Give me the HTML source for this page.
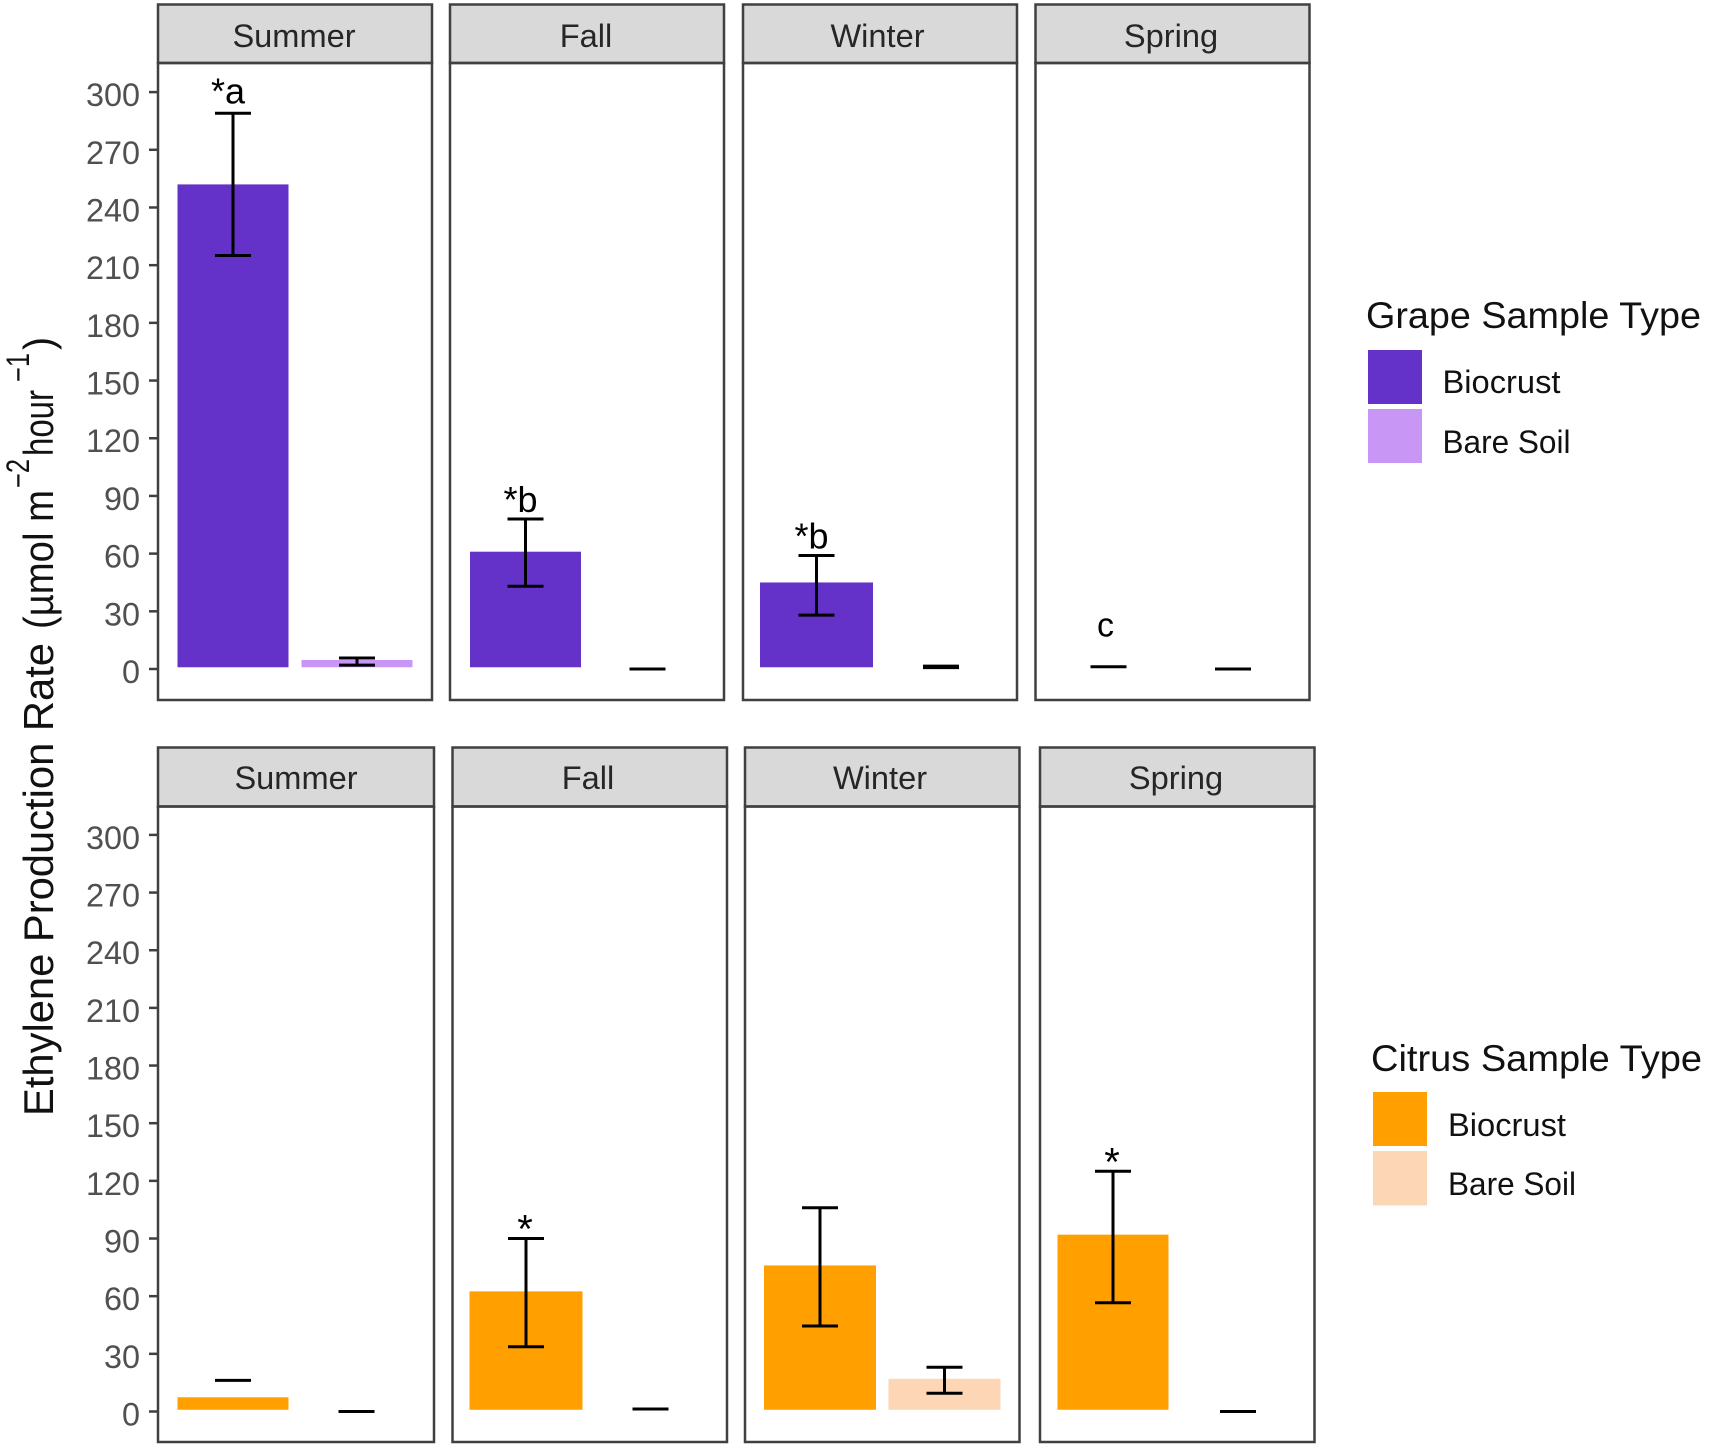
<!DOCTYPE html>
<html lang="en">
<head>
<meta charset="utf-8">
<title>Ethylene Production Rate by Season</title>
<style>
html,body{margin:0;padding:0;background:#fff;}
svg{display:block;font-family:"Liberation Sans",Arial,sans-serif;}
</style>
</head>
<body>
<svg id="chart" xmlns="http://www.w3.org/2000/svg" width="1709" height="1447" viewBox="0 0 1709 1447">
  <rect x="0" y="0" width="1709" height="1447" fill="#ffffff"/>

  <g id="y-title" fill="#111" font-size="41.6">
    <text transform="translate(53,1116) rotate(-90)" textLength="473" lengthAdjust="spacingAndGlyphs">Ethylene Production Rate</text>
    <text transform="translate(53,629) rotate(-90)" textLength="139" lengthAdjust="spacingAndGlyphs">(µmol m</text>
    <text transform="translate(29,488) rotate(-90)" font-size="32" textLength="29" lengthAdjust="spacingAndGlyphs">−2</text>
    <text transform="translate(53,456) rotate(-90)" textLength="66" lengthAdjust="spacingAndGlyphs">hour</text>
    <text transform="translate(29,382) rotate(-90)" font-size="32" textLength="29" lengthAdjust="spacingAndGlyphs">−1</text>
    <text transform="translate(53,350) rotate(-90)" textLength="13" lengthAdjust="spacingAndGlyphs">)</text>
  </g>

  <g font-size="32.6" fill="#262626" text-anchor="middle">
    <rect x="158" y="4.5" width="274" height="58.5" fill="#d9d9d9" stroke="#404040" stroke-width="2.5"/>
    <rect x="450" y="4.5" width="274" height="58.5" fill="#d9d9d9" stroke="#404040" stroke-width="2.5"/>
    <rect x="743" y="4.5" width="274" height="58.5" fill="#d9d9d9" stroke="#404040" stroke-width="2.5"/>
    <rect x="1035.5" y="4.5" width="274" height="58.5" fill="#d9d9d9" stroke="#404040" stroke-width="2.5"/>
    <text x="294" y="47">Summer</text>
    <text x="586" y="47">Fall</text>
    <text x="877.5" y="47">Winter</text>
    <text x="1171" y="47">Spring</text>
  </g>
  <g font-size="32.6" fill="#262626" text-anchor="middle">
    <rect x="158" y="747.5" width="276" height="59" fill="#d9d9d9" stroke="#404040" stroke-width="2.5"/>
    <rect x="452.5" y="747.5" width="274.5" height="59" fill="#d9d9d9" stroke="#404040" stroke-width="2.5"/>
    <rect x="745" y="747.5" width="274.5" height="59" fill="#d9d9d9" stroke="#404040" stroke-width="2.5"/>
    <rect x="1040" y="747.5" width="274.5" height="59" fill="#d9d9d9" stroke="#404040" stroke-width="2.5"/>
    <text x="296" y="789">Summer</text>
    <text x="588" y="789">Fall</text>
    <text x="880" y="789">Winter</text>
    <text x="1176" y="789">Spring</text>
  </g>

  <g id="marks"></g>

  <g>
    <text x="1366" y="328" font-size="37" fill="#111" textLength="335" lengthAdjust="spacingAndGlyphs">Grape Sample Type</text>
    <rect x="1368" y="350" width="54" height="54" fill="#6432c8"/>
    <rect x="1368" y="409" width="54" height="54" fill="#c896f5"/>
    <text x="1442.5" y="393" font-size="32.4" fill="#111" textLength="118" lengthAdjust="spacingAndGlyphs">Biocrust</text>
    <text x="1442.5" y="453" font-size="32.4" fill="#111" textLength="128" lengthAdjust="spacingAndGlyphs">Bare Soil</text>
  </g>
  <g>
    <text x="1371" y="1071" font-size="37" fill="#111" textLength="331" lengthAdjust="spacingAndGlyphs">Citrus Sample Type</text>
    <rect x="1373" y="1092" width="54" height="54" fill="#ffa000"/>
    <rect x="1373" y="1151" width="54" height="54.5" fill="#fdd6b5"/>
    <text x="1448" y="1136" font-size="32.4" fill="#111" textLength="118" lengthAdjust="spacingAndGlyphs">Biocrust</text>
    <text x="1448" y="1195" font-size="32.4" fill="#111" textLength="128" lengthAdjust="spacingAndGlyphs">Bare Soil</text>
  </g>
</svg>

<script>
const yTickValues = [0, 30, 60, 90, 120, 150, 180, 210, 240, 270, 300];

const grapeBiocrustMean  = [252, 61, 45, 0.8];
const grapeBiocrustUpper = [289, 78, 59, 1.2];
const grapeBiocrustLower = [215, 43, 28, 1.2];
const grapeBareMean      = [4.7, 0, 0.8, 0];
const grapeBareUpper     = [5.7, 0, 1.5, 0];
const grapeBareLower     = [2, 0, 0.7, 0];
const grapeLabels        = ['*a', '*b', '*b', 'c'];

const citrusBiocrustMean  = [7.4, 62.5, 76, 92];
const citrusBiocrustUpper = [16.2, 90, 106, 125];
const citrusBiocrustLower = [null, 33.7, 44.5, 56.6];
const citrusBareMean      = [0, 0.8, 17, 0];
const citrusBareUpper     = [0, 1.3, 23, 0];
const citrusBareLower     = [0, 1.3, 9.5, 0];
const citrusLabels        = ['', '*', '', '*'];

const seasonNames = ['summer', 'fall', 'winter', 'spring'];

const NS = 'http://www.w3.org/2000/svg';
const marks = document.getElementById('marks');

function yGrape(v) { return 669 - 1.923 * v; }
function yCitrus(v) { return 1411.5 - 1.922 * v; }

function make(tag, attrs) {
  const el = document.createElementNS(NS, tag);
  Object.keys(attrs).forEach(function (k) { el.setAttribute(k, attrs[k]); });
  marks.appendChild(el);
  return el;
}

function drawTicks(y, rowName) {
  yTickValues.forEach(function (t) {
    const tick = make('line', { x1: 149, x2: 158, y1: y(t), y2: y(t), stroke: '#404040', 'stroke-width': 2.5 });
    
    
    const s = String(t);
    const label = make('text', { x: 140, y: y(t) + 14, 'text-anchor': 'end', 'font-size': 32.5, fill: '#505050', textLength: s.length * 18, lengthAdjust: 'spacingAndGlyphs' });
    label.textContent = s;
    
    
  });
}

function drawBar(cx, barWidth, mean, y, fill, name) {
  const base = 0.9;
  if (mean <= base) return;
  const bar = make('rect', { x: cx - barWidth / 2, y: y(mean), width: barWidth, height: y(base) - y(mean), fill: fill });
  
  
}

function drawError(cx, upper, lower, y, name) {
  const halfCap = 18;
  const props = { stroke: '#000000', 'stroke-width': 3 };
  if (upper !== null && lower !== null && upper !== lower) {
    const stem = make('line', Object.assign({ x1: cx, x2: cx, y1: y(upper), y2: y(lower) }, props));
    
    
  }
  if (upper !== null) {
    const capU = make('line', Object.assign({ x1: cx - halfCap, x2: cx + halfCap, y1: y(upper), y2: y(upper) }, props));
    
    
  }
  if (lower !== null && lower !== upper) {
    const capL = make('line', Object.assign({ x1: cx - halfCap, x2: cx + halfCap, y1: y(lower), y2: y(lower) }, props));
    
    
  }
}

function drawLabel(text, cx, upper, y, name) {
  if (!text) return;
  let dx = -5, dy = -7, size = 36;
  if (text === '*a') { dy = -10; }
  if (text === '*') { dx = -1; dy = 4; size = 40; }
  if (text === 'c') { dx = -3; dy = -30; size = 34; }
  const label = make('text', { x: cx + dx, y: y(upper) + dy, 'text-anchor': 'middle', 'font-size': size, fill: '#000000' });
  label.textContent = text;
  
  
}

function drawRow(opts) {
  opts.panels.forEach(function (p, i) {
    const season = seasonNames[i];
    const prefix = opts.name + '-' + season;
    const panel = make('rect', { x: p.left, y: opts.top, width: p.right - p.left, height: opts.bottom - opts.top, fill: 'none', stroke: '#404040', 'stroke-width': 2.5 });
    
    
    drawBar(p.c1, p.bw, opts.mean1[i], opts.y, opts.color1, prefix + '-biocrust-bar');
    drawBar(p.c2, p.bw, opts.mean2[i], opts.y, opts.color2, prefix + '-bare-soil-bar');
    drawError(p.c1, opts.up1[i], opts.lo1[i], opts.y, prefix + '-biocrust-error');
    drawError(p.c2, opts.up2[i], opts.lo2[i], opts.y, prefix + '-bare-soil-error');
    drawLabel(opts.labels[i], p.c1, opts.up1[i], opts.y, prefix + '-significance-label');
  });
  drawTicks(opts.y, opts.name);
}

drawRow({
  name: 'grape', y: yGrape, top: 63, bottom: 700,
  panels: [
    { left: 158, right: 432, c1: 233, c2: 357, bw: 111 },
    { left: 450, right: 724, c1: 525.5, c2: 647.5, bw: 111 },
    { left: 743, right: 1017, c1: 816.5, c2: 941, bw: 113 },
    { left: 1035.5, right: 1309.5, c1: 1108.5, c2: 1233, bw: 111 }
  ],
  mean1: grapeBiocrustMean, up1: grapeBiocrustUpper, lo1: grapeBiocrustLower,
  mean2: grapeBareMean, up2: grapeBareUpper, lo2: grapeBareLower,
  labels: grapeLabels, color1: '#6432c8', color2: '#c896f5'
});
drawRow({
  name: 'citrus', y: yCitrus, top: 806.5, bottom: 1442,
  panels: [
    { left: 158, right: 434, c1: 233, c2: 356.5, bw: 111 },
    { left: 452.5, right: 727, c1: 526, c2: 650.5, bw: 113 },
    { left: 745, right: 1019.5, c1: 820, c2: 944.5, bw: 112 },
    { left: 1040, right: 1314.5, c1: 1113, c2: 1238, bw: 111 }
  ],
  mean1: citrusBiocrustMean, up1: citrusBiocrustUpper, lo1: citrusBiocrustLower,
  mean2: citrusBareMean, up2: citrusBareUpper, lo2: citrusBareLower,
  labels: citrusLabels, color1: '#ffa000', color2: '#fdd6b5'
});
</script>
</body>
</html>
